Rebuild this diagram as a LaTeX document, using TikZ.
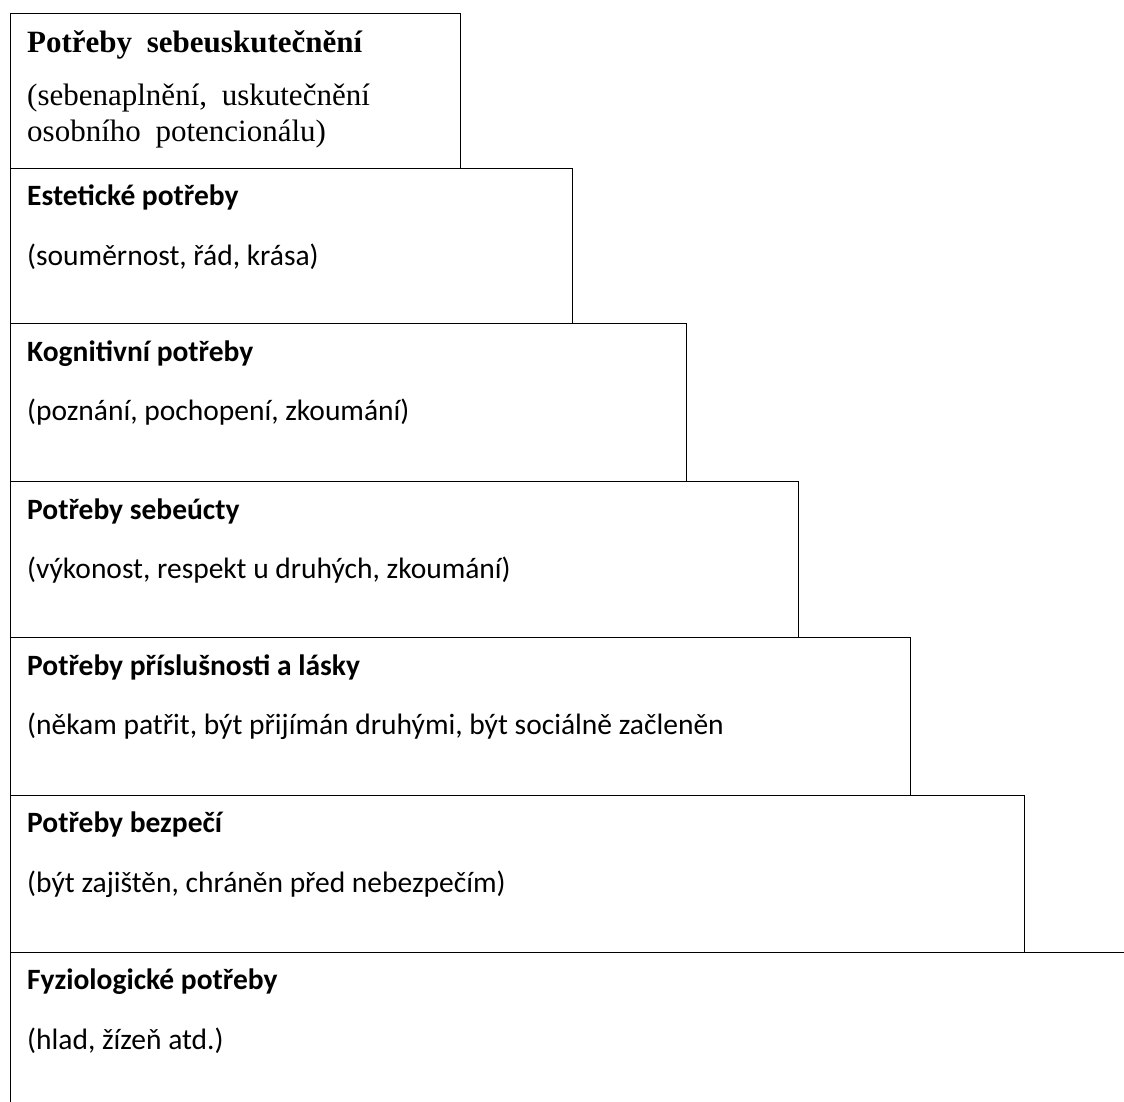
\documentclass[tikz,border=0pt]{standalone}
\usepackage{fontspec}
\setmainfont{Carlito}
\newfontfamily\serifbox[WordSpace=1.9]{Liberation Serif}
\usetikzlibrary{positioning}

\tikzset{
  stair/.style={draw, line width=1.2pt, inner sep=0pt, anchor=north west},
  heading/.style={font=\bfseries\fontsize{29.5}{34}\selectfont, inner sep=0pt},
  detail/.style={font=\fontsize{29.5}{34}\selectfont, inner sep=0pt},
}

\begin{document}
\begin{tikzpicture}[x=1pt,y=-1pt]
  \useasboundingbox (0,0) rectangle (1124,1102);
  % the steps, top to bottom
  \node[stair, minimum width=450pt, minimum height=155pt] (b1) at (10,13) {};
  \node[stair, minimum width=562pt, minimum height=155pt] (b2) at (10,168) {};
  \node[stair, minimum width=676pt, minimum height=158pt] (b3) at (10,323) {};
  \node[stair, minimum width=788pt, minimum height=156pt] (b4) at (10,481) {};
  \node[stair, minimum width=900pt, minimum height=158pt] (b5) at (10,637) {};
  \node[stair, minimum width=1014pt, minimum height=157pt] (b6) at (10,795) {};
  \node[stair, minimum width=1130pt, minimum height=170pt] (b7) at (10,952) {};

  \node[heading, font=\serifbox\bfseries\fontsize{31}{35}\selectfont, below right=40pt and 17pt of b1.north west, anchor=base west] (h1) {Potřeby sebeuskutečnění};
  \node[detail, font=\serifbox\fontsize{31}{35}\selectfont, below right=93pt and 17pt of b1.north west, anchor=base west] (d1) {(sebenaplnění, uskutečnění};
  \node[detail, font=\serifbox\fontsize{31}{35}\selectfont, below right=129pt and 17pt of b1.north west, anchor=base west] (e1) {osobního potencionálu)};

  \node[heading, below right=38pt and 17pt of b2.north west, anchor=base west] (h2) {Estetické potřeby};
  \node[detail, below right=97pt and 17pt of b2.north west, anchor=base west] (d2) {(souměrnost, řád, krása)};

  \node[heading, below right=38pt and 17pt of b3.north west, anchor=base west] (h3) {Kognitivní potřeby};
  \node[detail, below right=97pt and 17pt of b3.north west, anchor=base west] (d3) {(poznání, pochopení, zkoumání)};

  \node[heading, below right=38pt and 17pt of b4.north west, anchor=base west] (h4) {Potřeby sebeúcty};
  \node[detail, below right=97pt and 17pt of b4.north west, anchor=base west] (d4) {(výkonost, respekt u druhých, zkoumání)};

  \node[heading, below right=38pt and 17pt of b5.north west, anchor=base west] (h5) {Potřeby příslušnosti a lásky};
  \node[detail, below right=97pt and 17pt of b5.north west, anchor=base west] (d5) {(někam patřit, být přijímán druhými, být sociálně začleněn};

  \node[heading, below right=37pt and 17pt of b6.north west, anchor=base west] (h6) {Potřeby bezpečí};
  \node[detail, below right=97pt and 17pt of b6.north west, anchor=base west] (d6) {(být zajištěn, chráněn před nebezpečím)};

  \node[heading, below right=37pt and 17pt of b7.north west, anchor=base west] (h7) {Fyziologické potřeby};
  \node[detail, below right=97pt and 17pt of b7.north west, anchor=base west] (d7) {(hlad, žízeň atd.)};
\end{tikzpicture}
\end{document}
